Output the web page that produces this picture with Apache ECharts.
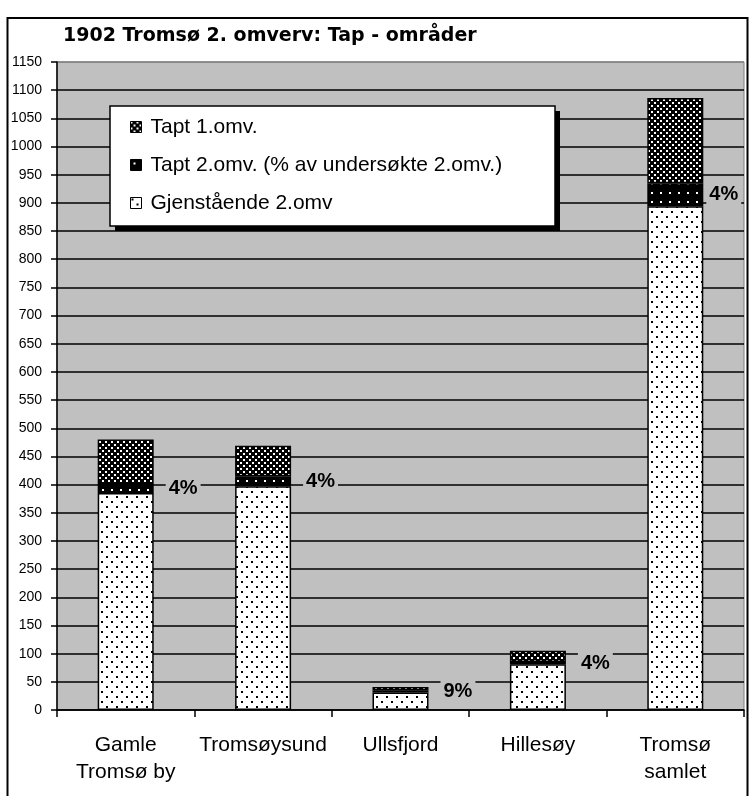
<!DOCTYPE html>
<html>
<head>
<meta charset="utf-8">
<script src="https://cdn.jsdelivr.net/npm/echarts@6/dist/echarts.min.js"></script>
<style>
html,body{margin:0;padding:0;background:#fff;}
#chart{width:752px;height:796px;}
</style>
</head>
<body>
<div id="chart"></div>
<script>
// ---- data ----
var titleText = '1902 Tromsø 2. omverv: Tap - områder';
var categories = ['Gamle\nTromsø by', 'Tromsøysund', 'Ullsfjord', 'Hillesøy', 'Tromsø\nsamlet'];
var seriesNames = ['Tapt 1.omv.', 'Tapt 2.omv. (% av undersøkte 2.omv.)', 'Gjenstående 2.omv'];
var gjenstaende = [385, 397, 31, 81, 894];
var tapt2 = [16, 18, 3, 4, 41];
var tapt1 = [79, 54, 7, 20, 151];
var pctLabels = ['4%', '4%', '9%', '4%', '4%'];
var yMin = 0, yMax = 1150, yStep = 50;

// ---- patterns ----
function makePattern(w, h, draw) {
  var c = document.createElement('canvas');
  c.width = w; c.height = h;
  var ctx = c.getContext('2d');
  draw(ctx, w, h);
  return { image: c, repeat: 'repeat' };
}
var patDots = makePattern(10, 10, function (ctx, w, h) {
  ctx.fillStyle = '#fff'; ctx.fillRect(0, 0, w, h);
  ctx.fillStyle = '#000';
  ctx.fillRect(1, 1, 2, 2);
  ctx.fillRect(6, 6, 2, 2);
});
var patBlack = makePattern(9, 9, function (ctx, w, h) {
  ctx.fillStyle = '#000'; ctx.fillRect(0, 0, w, h);
  ctx.fillStyle = '#fff';
  ctx.fillRect(3, 3, 2, 2);
});
var patCheck = makePattern(6, 6, function (ctx, w, h) {
  ctx.fillStyle = '#000'; ctx.fillRect(0, 0, w, h);
  ctx.fillStyle = '#fff';
  ctx.fillRect(0, 0, 2, 2);
  ctx.fillRect(3, 3, 2, 2);
});

var FONT = '"Liberation Sans", Arial, sans-serif';
var splitColors = [];
for (var v = yMin; v <= yMax; v += yStep) splitColors.push(v === yMax ? '#808080' : '#000');

var chart = echarts.init(document.getElementById('chart'), null, { renderer: 'canvas' });
var option = {
  animation: false,
  backgroundColor: '#fff',
  title: {
    text: titleText,
    left: 58, top: 22,
    textStyle: { fontFamily: '"DejaVu Sans", sans-serif', fontSize: 19, fontWeight: 'bold', color: '#000' }
  },
  legend: {
    z: 10,
    orient: 'vertical',
    left: 130, top: 116, padding: 0,
    itemWidth: 11, itemHeight: 11, itemGap: 16,
    selectedMode: false,
    data: seriesNames,
    icon: 'rect',
    itemStyle: { borderColor: '#000', borderWidth: 1 },
    textStyle: { fontFamily: FONT, fontSize: 21, lineHeight: 22, color: '#000', padding: [0, 0, 0, 4] }
  },
  grid: {
    left: 57, right: 8, top: 62, bottom: 86,
    show: true, backgroundColor: '#c0c0c0', borderColor: '#808080', borderWidth: 1
  },
  xAxis: {
    type: 'category',
    data: categories,
    axisLine: { lineStyle: { color: '#000', width: 1.5 } },
    axisTick: { show: true, length: 7, lineStyle: { color: '#000', width: 1.5 } },
    axisLabel: { fontFamily: FONT, fontSize: 21, lineHeight: 27, color: '#000', margin: 22, interval: 0 },
    splitLine: { show: false }
  },
  yAxis: {
    type: 'value',
    min: yMin, max: yMax, interval: yStep,
    axisLine: { show: true, lineStyle: { color: '#000', width: 1.5 } },
    axisTick: { show: true, length: 6, lineStyle: { color: '#000', width: 1.5 } },
    axisLabel: {
      fontFamily: FONT, fontSize: 14, color: '#000', margin: 15,
      formatter: function (val) { return String(val); }
    },
    splitLine: { show: true, lineStyle: { color: splitColors, width: 1.5 } }
  },
  series: [
    {
      name: seriesNames[2], type: 'bar', stack: 'tot', barWidth: 56,
      data: gjenstaende,
      itemStyle: { color: patDots, borderColor: '#000', borderWidth: 1.5 }
    },
    {
      name: seriesNames[1], type: 'bar', stack: 'tot', barWidth: 56,
      data: tapt2.map(function (v, i) {
        return i === tapt2.length - 1 ? { value: v, label: { distance: 3 } } : v;
      }),
      itemStyle: { color: patBlack, borderColor: '#000', borderWidth: 1.5 },
      label: {
        show: true, position: 'right', distance: 12,
        formatter: function (p) { return pctLabels[p.dataIndex]; },
        fontFamily: FONT, fontSize: 20, fontWeight: 'bold', color: '#000',
        backgroundColor: '#c0c0c0', padding: [1, 3]
      }
    },
    {
      name: seriesNames[0], type: 'bar', stack: 'tot', barWidth: 56,
      data: tapt1,
      itemStyle: { color: patCheck, borderColor: '#000', borderWidth: 1.5 }
    }
  ],
  graphic: [
    {
      type: 'rect', z: 5, silent: true,
      shape: { x: 115, y: 111, width: 445, height: 120 },
      style: { fill: '#000', stroke: null }
    },
    {
      type: 'rect', z: 6, silent: true,
      shape: { x: 110, y: 106, width: 445, height: 120 },
      style: { fill: '#fff', stroke: '#000', lineWidth: 1.5 }
    },
    {
      type: 'rect', z: 20, silent: true,
      shape: { x: 7.5, y: 18, width: 740, height: 800 },
      style: { fill: null, stroke: '#000', lineWidth: 2 }
    }
  ]
};
chart.setOption(option);
</script>
</body>
</html>
